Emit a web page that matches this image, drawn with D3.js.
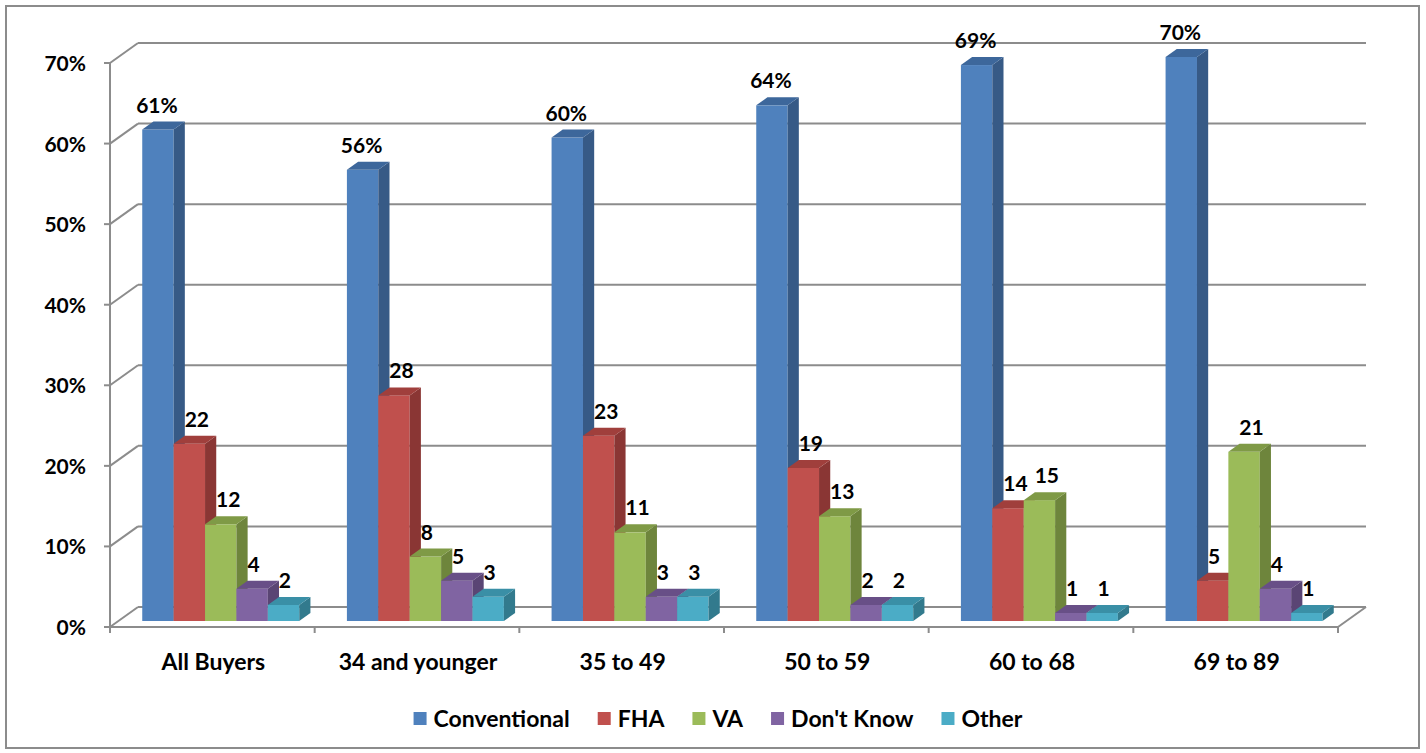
<!DOCTYPE html>
<html>
<head>
<meta charset="utf-8">
<script src="https://cdn.jsdelivr.net/npm/d3@7"></script>
<style>
  html, body { margin: 0; padding: 0; background: #fff; }
  svg { display: block; font-family: Lato, "Open Sans", sans-serif; font-weight: bold; }
</style>
</head>
<body>
<svg id="chart" width="1426" height="753"></svg>
<script>
// ---- data ----
const categories = ["All Buyers", "34 and younger", "35 to 49", "50 to 59", "60 to 68", "69 to 89"];
const series = ["Conventional", "FHA", "VA", "Don't Know", "Other"];
const conventional = [61, 56, 60, 64, 69, 70];
const fha = [22, 28, 23, 19, 14, 5];
const va = [12, 8, 11, 13, 15, 21];
const dontKnow = [4, 5, 3, 2, 1, 4];
const other = [2, 3, 3, 2, 1, 1];
const yTicks = [0, 10, 20, 30, 40, 50, 60, 70];
const yTickLabels = ["0%", "10%", "20%", "30%", "40%", "50%", "60%", "70%"];

const values = [conventional, fha, va, dontKnow, other];

// ---- styles ----
const frontColors = ["#4F81BD", "#C0504D", "#9BBB59", "#8064A2", "#4BACC6"];
const topColors   = ["#3D679B", "#A03F3C", "#7F9A46", "#684F87", "#3A8FA6"];
const sideColors  = ["#375A86", "#8A3634", "#6E853C", "#5A4574", "#327A8D"];
const gridColor = "#8c8c8c";

const svg = d3.select("#chart");

// ---- geometry ----
const plot = { x0: 110, x1: 1338, yBottom: 627, yTop: 63 };
const depth = { dx: 28, dy: -20 };
const barDepth0 = 0.3, barDepth1 = 0.7;

const y = d3.scaleLinear().domain([0, 70]).range([plot.yBottom, plot.yTop]);
const x0 = d3.scaleBand().domain(categories).range([plot.x0, plot.x1]).padding(0);
const groupGap = x0.bandwidth() * 0.233;
const x1 = d3.scaleBand().domain(series).range([groupGap / 2, x0.bandwidth() - groupGap / 2]).padding(0);

// border
svg.append("rect").attr("x", 6).attr("y", 6).attr("width", 1413).attr("height", 742)
  .attr("fill", "none").attr("stroke", gridColor).attr("stroke-width", 2);

// gridlines: side wall diagonals + back wall lines
const grid = svg.append("g").attr("stroke", gridColor).attr("stroke-width", 2).attr("fill", "none");
yTicks.forEach(t => {
  const yf = y(t);
  grid.append("line").attr("x1", plot.x0).attr("y1", yf)
    .attr("x2", plot.x0 + depth.dx).attr("y2", yf + depth.dy);
  grid.append("line").attr("x1", plot.x0 + depth.dx).attr("y1", yf + depth.dy)
    .attr("x2", plot.x1 + depth.dx).attr("y2", yf + depth.dy);
  // left tick
  grid.append("line").attr("x1", plot.x0 - 6).attr("y1", yf).attr("x2", plot.x0).attr("y2", yf);
});
// left vertical axis
grid.append("line").attr("x1", plot.x0).attr("y1", y(70)).attr("x2", plot.x0).attr("y2", y(0));
// floor front edge and right edge
grid.append("line").attr("x1", plot.x0).attr("y1", y(0)).attr("x2", plot.x1).attr("y2", y(0));
grid.append("line").attr("x1", plot.x1).attr("y1", y(0))
  .attr("x2", plot.x1 + depth.dx).attr("y2", y(0) + depth.dy);
// category ticks
categories.concat([null]).forEach((c, i) => {
  const xx = c === null ? plot.x1 : x0(c);
  grid.append("line").attr("x1", xx).attr("y1", y(0)).attr("x2", xx).attr("y2", y(0) + 6);
});

// y tick labels
svg.append("g").selectAll("text").data(yTicks).join("text")
  .attr("x", 86).attr("y", d => y(d) + 8)
  .attr("text-anchor", "end").attr("font-size", 21).attr("fill", "#000")
  .text((d, i) => yTickLabels[i]);

// category labels
svg.append("g").selectAll("text").data(categories).join("text")
  .attr("x", d => x0(d) + x0.bandwidth() / 2 + 1).attr("y", 670)
  .attr("text-anchor", "middle").attr("font-size", 23).attr("fill", "#000")
  .text(d => d);

// bars
const bdx = depth.dx * (barDepth1 - barDepth0);
const bdy = depth.dy * (barDepth1 - barDepth0);
const offX = depth.dx * barDepth0, offY = depth.dy * barDepth0;
const bars = svg.append("g");
const labels = [];
categories.forEach((cat, ci) => {
  series.forEach((s, si) => {
    const v = values[si][ci];
    const xl = x0(cat) + x1(s) + offX;
    const xr = xl + x1.bandwidth();
    const yt = y(v) + offY;
    const yb = y(0) + offY;
    const g = bars.append("g");
    g.append("rect").attr("x", xl).attr("y", yt).attr("width", xr - xl).attr("height", yb - yt)
      .attr("fill", frontColors[si]);
    g.append("polygon")
      .attr("points", [[xr, yt], [xr + bdx, yt + bdy], [xr + bdx, yb + bdy], [xr, yb]].join(" "))
      .attr("fill", sideColors[si]);
    g.append("polygon")
      .attr("points", [[xl, yt], [xr, yt], [xr + bdx, yt + bdy], [xl + bdx, yt + bdy]].join(" "))
      .attr("fill", topColors[si]);
    labels.push({ si, v, xl, xr, yt });
  });
});

// value labels
svg.append("g").selectAll("text").data(labels).join("text")
  .attr("x", d => d.si === 0 ? (d.xl + d.xr) / 2 - 1 : d.xl + 11)
  .attr("y", d => d.yt - 17)
  .attr("text-anchor", d => d.si === 0 ? "middle" : "start")
  .attr("font-size", 21).attr("fill", "#000")
  .text(d => d.si === 0 ? d.v + "%" : d.v);

// legend
const legend = svg.append("g");
let cx = 0;
const items = [];
series.forEach((s, si) => {
  const it = legend.append("g");
  it.append("rect").attr("x", cx).attr("y", 712).attr("width", 13).attr("height", 13).attr("fill", frontColors[si]);
  const t = it.append("text").attr("x", cx + 20).attr("y", 727).attr("font-size", 23).attr("fill", "#000").text(s);
  const w = t.node().getComputedTextLength();
  cx += 20 + w + 28;
});
const totalW = cx - 28;
legend.attr("transform", `translate(${718 - totalW / 2},0)`);
</script>
</body>
</html>
